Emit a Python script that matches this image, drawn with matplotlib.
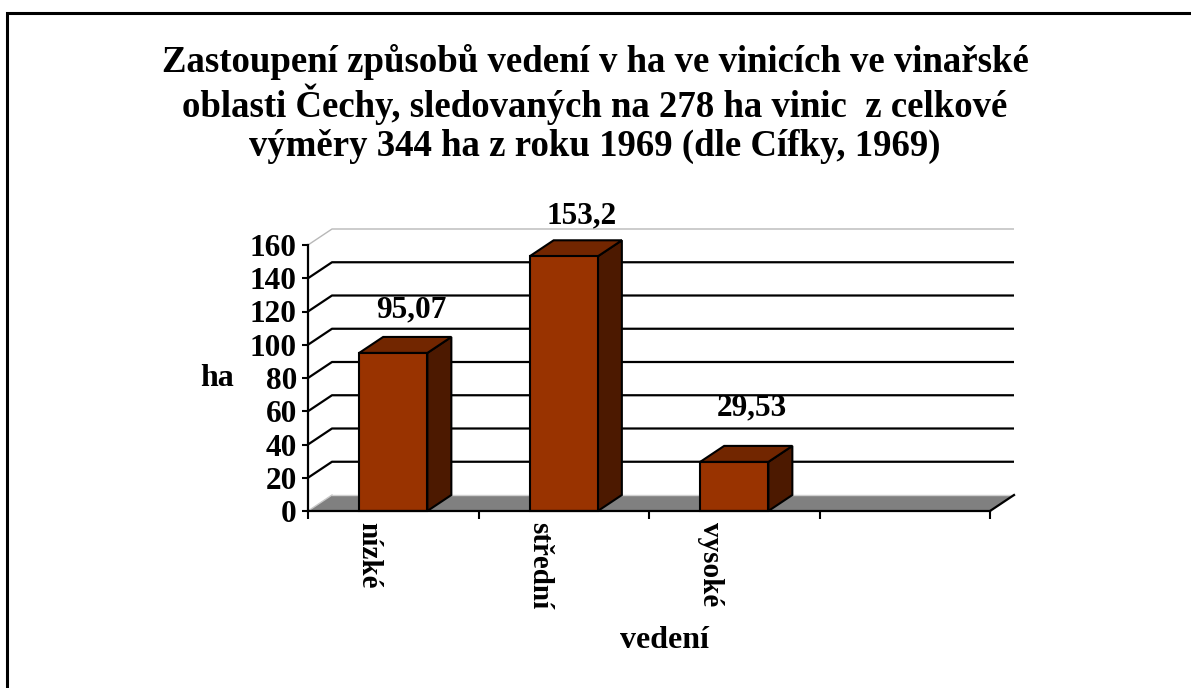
import matplotlib.pyplot as plt
from matplotlib.patches import Polygon, Rectangle

# ── data ──────────────────────────────────────────────────────────────────
CATEGORIES = ["nízké", "střední", "vysoké"]
VALUES = [95.07, 153.2, 29.53]
VALUE_LABELS = ["95,07", "153,2", "29,53"]
Y_TICKS = [0, 20, 40, 60, 80, 100, 120, 140, 160]
TITLE_LINES = [
    "Zastoupení způsobů vedení v ha ve vinicích ve vinařské",
    "oblasti Čechy, sledovaných na 278 ha vinic  z celkové",
    "výměry 344 ha z roku 1969 (dle Cífky, 1969)",
]
X_LABEL = "vedení"
Y_LABEL = "ha"

# ── style ─────────────────────────────────────────────────────────────────
W, H = 1191, 688
FONT = ["Liberation Serif", "DejaVu Serif"]
FRONT, TOP, SIDE = "#993300", "#722600", "#4c1900"
N_SLOTS = 4            # Excel leaves an empty 4th category slot
BAR_W = 0.40
DX = 24 / (682 / N_SLOTS)      # depth offset in category units
DY = 16 / (266 / 160)          # depth offset in value units
LABEL_GAP_PX = [20, 17, 31]
FS = 22.5

plt.rcParams["font.family"] = FONT
plt.rcParams["font.weight"] = "bold"

fig = plt.figure(figsize=(W / 100, H / 100), dpi=100)
ax = fig.add_axes([308 / W, 1 - 511 / H, 682 / W, 266 / H])
ax.set_xlim(0, N_SLOTS)
ax.set_ylim(0, 160)
ax.patch.set_visible(False)
for s in ("top", "right"):
    ax.spines[s].set_visible(False)
for s in ("left", "bottom"):
    ax.spines[s].set_linewidth(1.6)
    ax.spines[s].set_zorder(6)

ax.set_yticks(Y_TICKS)
ax.set_yticklabels([str(t) for t in Y_TICKS], fontsize=FS, fontweight="bold")
ax.tick_params(axis="y", length=4.5, width=1.5, pad=3.5)
ax.set_xticks(range(N_SLOTS + 1))
ax.set_xticklabels([])
ax.tick_params(axis="x", length=5.5, width=1.5, direction="out")

# gridlines on back wall, with diagonal from the front axis
for t in Y_TICKS:
    if t == 0:
        continue
    col, lw = ("#b8b8b8", 1.0) if t == 160 else ("black", 1.6)
    ax.plot([0, DX, N_SLOTS + DX], [t, t + DY, t + DY], color=col, lw=lw,
            clip_on=False, zorder=1, solid_capstyle="butt")

# floor
floor = Polygon([(0, 0), (N_SLOTS, 0), (N_SLOTS + DX, DY), (DX, DY)],
                closed=True, facecolor="#808080", edgecolor="none",
                clip_on=False, zorder=2)
ax.add_patch(floor)
ax.plot([DX, N_SLOTS + DX], [DY, DY], color="#d0d0d0", lw=1.0, clip_on=False, zorder=2)
ax.plot([0, DX], [0, DY], color="#c8c8c8", lw=1.0, clip_on=False, zorder=2)
ax.plot([N_SLOTS, N_SLOTS + DX], [0, DY], color="black", lw=1.6, clip_on=False, zorder=2)

# 3D bars
for i, v in enumerate(VALUES):
    x0 = i + 0.5 - BAR_W / 2
    x1 = x0 + BAR_W
    kw = dict(closed=True, edgecolor="black", lw=1.5, clip_on=False,
              joinstyle="miter", zorder=3)
    ax.add_patch(Polygon([(x1, 0), (x1 + DX, DY), (x1 + DX, v + DY), (x1, v)],
                         facecolor=SIDE, **kw))
    ax.add_patch(Polygon([(x0, v), (x1, v), (x1 + DX, v + DY), (x0 + DX, v + DY)],
                         facecolor=TOP, **kw))
    ax.add_patch(Rectangle((x0, 0), BAR_W, v, facecolor=FRONT, edgecolor="black",
                           lw=1.5, clip_on=False, zorder=4))
    ax.annotate(VALUE_LABELS[i], xy=(i + 0.5 + DX * 0.75, v + DY),
                xytext=(0, LABEL_GAP_PX[i] * 0.72), textcoords="offset points",
                ha="center", va="baseline", fontsize=FS, fontweight="bold",
                annotation_clip=False, zorder=5)

# category labels, rotated
for i, name in enumerate(CATEGORIES):
    ax.annotate(name, xy=(i + 0.5 - DX, 0), xytext=(0, -8), textcoords="offset points",
                rotation=-90, ha="center", va="top", fontsize=21, fontweight="bold",
                annotation_clip=False)

# title, axis names
for k, line in enumerate(TITLE_LINES):
    fig.text(595 / W, 1 - (62 + 42 * k) / H, line, ha="center", va="center",
             fontsize=26.5, fontweight="bold")
fig.text(217 / W, 1 - 379 / H, Y_LABEL, ha="center", va="center",
         fontsize=23, fontweight="bold")
fig.text(665 / W, 1 - 640 / H, X_LABEL, ha="center", va="center",
         fontsize=23, fontweight="bold")

# chart area frame (only left/top edges visible in the original)
fig.patches.append(Rectangle((7 / W, -0.1), 1.2, 1 - 13 / H + 0.1,
                             transform=fig.transFigure, fill=False,
                             edgecolor="black", lw=2.2))

fig.savefig("out.png", dpi=100, facecolor="white")
